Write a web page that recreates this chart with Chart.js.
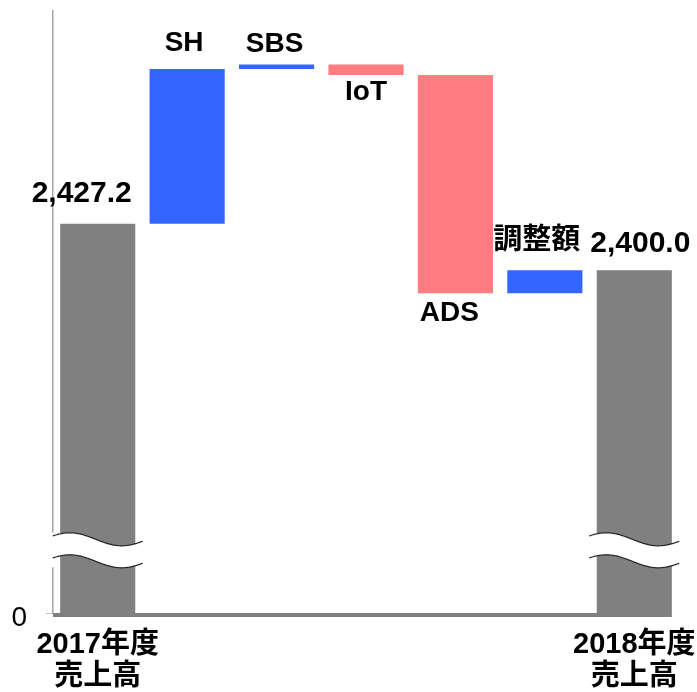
<!DOCTYPE html>
<html><head><meta charset="utf-8">
<script src="https://cdn.jsdelivr.net/npm/chart.js@4/dist/chart.umd.min.js"></script>
<style>html,body{margin:0;padding:0;background:#fff}#wrap{width:697px;height:692px}</style>
</head><body><div id="wrap"><canvas id="c" width="697" height="692"></canvas></div>
<script>
// ---- data ----
const categories = ['2017年度売上高', 'SH', 'SBS', 'IoT', 'ADS', '調整額', '2018年度売上高'];
const tickLabels = [['2017年度', '売上高'], '', '', '', '', '', ['2018年度', '売上高']];
const barLabels = ['2,427.2', 'SH', 'SBS', 'IoT', 'ADS', '調整額', '2,400.0'];
const startTotal = 2427.2;
const changes = [90.0, 2.6, -6.1, -127.0, 13.3];
const endTotal = 2400.0;
// broken axis: the bottom of the scale is labelled 0
const axisZeroValue = 2200.5;
const axisTopValue = 2551;
const breakValue = 2237;
const yTickLabels = ['0'];

// ---- build waterfall data ----
const GRAY = '#808080', BLUE = '#3366ff', PINK = '#ff7c80';
const barData = [startTotal];
const barColors = [GRAY];
let run = startTotal;
changes.forEach(c => {
  barData.push([run, run + c]);
  barColors.push(c >= 0 ? BLUE : PINK);
  run += c;
});
barData.push(endTotal);
barColors.push(GRAY);

const FONT = '"Liberation Sans", Arial, "Noto Sans CJK JP", sans-serif';
Chart.defaults.font.family = FONT;
Chart.defaults.color = '#000';

const decor = {
  id: 'decor',
  afterDatasetsDraw(chart, args, opts) {
    const ctx = chart.ctx;
    const area = chart.chartArea;
    const meta = chart.getDatasetMeta(0);
    const yScale = chart.scales.y;
    const bars = meta.data;
    ctx.save();
    // baseline
    const last = bars[bars.length - 1];
    ctx.strokeStyle = GRAY;
    ctx.lineWidth = 4;
    ctx.beginPath();
    ctx.moveTo(area.left, area.bottom + 2);
    ctx.lineTo(last.x + last.width / 2, area.bottom + 2);
    ctx.stroke();

    // axis break marks
    const yb = yScale.getPixelForValue(breakValue);
    ctx.fillStyle = '#fff';
    ctx.fillRect(area.left - 3, yb - 18, 6, 35);
    const P = 104, A = 6.5, half = 11, x0 = -28;
    opts.breakBars.forEach(i => {
      const b = bars[i];
      const xs = [];
      for (let dx = -45; dx <= 45; dx += 1) xs.push(b.x + dx);
      const wave = (x, c) => c - A * Math.cos(2 * Math.PI * (x - b.x - x0) / P);
      ctx.beginPath();
      xs.forEach((x, k) => { const y = wave(x, yb - half); k ? ctx.lineTo(x, y) : ctx.moveTo(x, y); });
      for (let k = xs.length - 1; k >= 0; k--) ctx.lineTo(xs[k], wave(xs[k], yb + half));
      ctx.closePath();
      ctx.fillStyle = '#fff';
      ctx.fill();
      ctx.strokeStyle = '#222';
      ctx.lineWidth = 1.2;
      [yb - half, yb + half].forEach(c => {
        ctx.beginPath();
        xs.forEach((x, k) => { const y = wave(x, c); k ? ctx.lineTo(x, y) : ctx.moveTo(x, y); });
        ctx.stroke();
      });
    });

    // bar labels
    ctx.fillStyle = '#000';
    ctx.textAlign = 'center';
    ctx.textBaseline = 'alphabetic';
    bars.forEach((b, i) => {
      const top = Math.min(b.y, b.base), bottom = Math.max(b.y, b.base);
      const raw = barData[i];
      const down = Array.isArray(raw) && raw[1] < raw[0];
      const [dx, dy] = opts.offsets[i];
      ctx.font = 'bold ' + opts.sizes[i] + 'px ' + FONT;
      ctx.fillText(barLabels[i], b.x + dx, (down ? bottom : top) + dy);
    });
    ctx.restore();
  }
};

new Chart(document.getElementById('c'), {
  type: 'bar',
  data: {
    labels: categories,
    datasets: [{
      data: barData,
      backgroundColor: barColors,
      borderWidth: 0,
      barPercentage: 0.84,
      categoryPercentage: 1.0
    }]
  },
  options: {
    responsive: false,
    animation: false,
    devicePixelRatio: 1,
    layout: { padding: { top: 11, right: 18, left: 0, bottom: 3 } },
    plugins: {
      legend: { display: false },
      tooltip: { enabled: false },
      decor: {
        breakBars: [0, 6],
        sizes: [30, 28, 28, 28, 28, 29, 30],
        offsets: [[-16, -22], [-3, -18], [-2, -13], [0, 25], [-6, 28], [-8, -21], [6, -18]]
      }
    },
    scales: {
      x: {
        type: 'category',
        offset: true,
        grid: { display: false, drawTicks: false },
        border: { display: false },
        ticks: {
          autoSkip: false,
          maxRotation: 0,
          padding: 16,
          color: '#000',
          font: { size: 29, weight: 'bold', lineHeight: 1.1 },
          callback: (v, i) => tickLabels[i]
        },
        afterFit: s => { s.paddingLeft = 0; s.paddingRight = 0; s.height = 76; }
      },
      y: {
        min: axisZeroValue,
        max: axisTopValue,
        afterBuildTicks: s => { s.ticks = [{ value: axisZeroValue }]; },
        afterFit: s => { s.width = 53; s.paddingTop = 0; s.paddingBottom = 0; },
        grid: { drawOnChartArea: false, drawTicks: true, tickLength: 7, color: '#c0c0c0', lineWidth: 1 },
        border: { display: true, color: '#a6a6a6', width: 1.5 },
        ticks: {
          padding: 19,
          labelOffset: 5,
          color: '#000',
          font: { size: 28, weight: 'normal', family: FONT },
          callback: (v, i) => yTickLabels[i]
        }
      }
    }
  },
  plugins: [decor]
});
</script>
</body></html>
